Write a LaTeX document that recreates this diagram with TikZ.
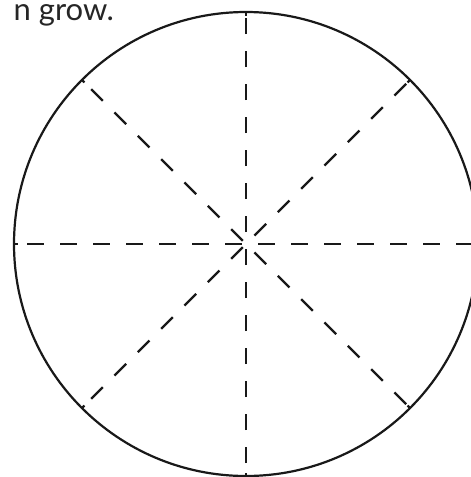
\documentclass[tikz,border=0pt]{standalone}
\usepackage{fontspec}
\setmainfont{Lato}
\usetikzlibrary{calc}

\begin{document}
\begin{tikzpicture}[x=1pt, y=-1pt, line width=2pt,
    rim/.style={draw=black!90, line width=2.2pt},
    spoke/.style={draw=black!90, line width=2.2pt, dash pattern=on 16.5pt off 16.5pt, dash phase=20pt},
    tick/.style={draw=black!90, line width=2.2pt}]
  \useasboundingbox (0,0) rectangle (471,477);

  % Text cut off at the top
  \node[anchor=base east, inner sep=0pt, text height=16pt, text depth=6pt,
        font=\fontsize{31}{35}\selectfont, text=black!85] (caption) at (115,20) {n grow.};

  % Circle
  \coordinate (c) at (246,244);
  \draw[rim] (c) circle[radius=232];

  % Dashed diameters with small ticks at the rim
  \foreach \a in {90,135,180,225} {
    \coordinate (s\a) at ($(c)+(\a:232)$);
    \coordinate (e\a) at ($(c)+(\a+180:232)$);
    \draw[spoke] (s\a) -- (e\a);
    \draw[tick] (s\a) -- ($(c)+(\a:228.5)$);
    \draw[tick] (e\a) -- ($(c)+(\a+180:228.5)$);
  }
\end{tikzpicture}
\end{document}
